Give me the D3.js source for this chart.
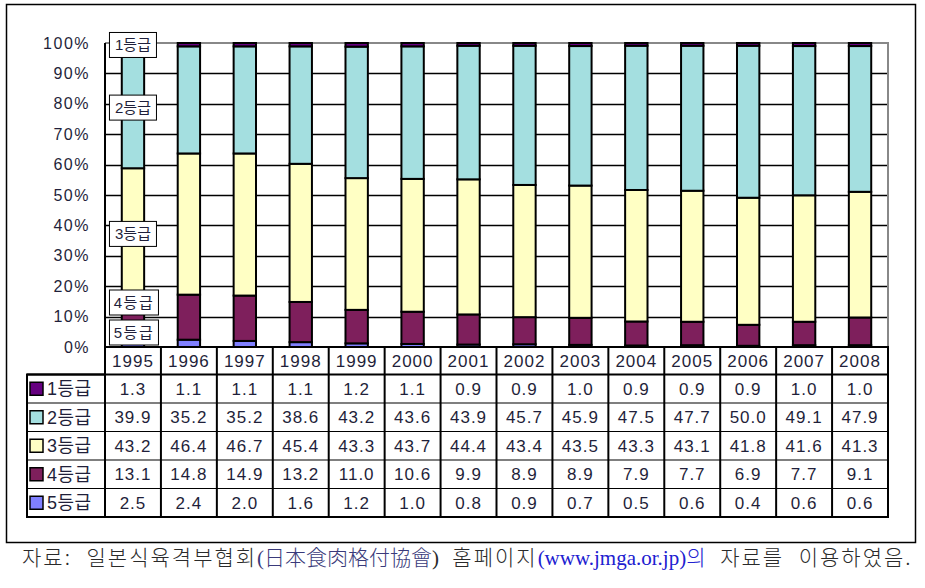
<!DOCTYPE html>
<html><head><meta charset="utf-8">
<script src="https://cdn.jsdelivr.net/npm/d3@7"></script>
<style>body{margin:0;background:#fff}svg{display:block}</style>
</head><body>
<script>
const years = ["1995","1996","1997","1998","1999","2000","2001","2002","2003","2004","2005","2006","2007","2008"];
const grades = ["1등급","2등급","3등급","4등급","5등급"];
const grade1 = [1.3,1.1,1.1,1.1,1.2,1.1,0.9,0.9,1.0,0.9,0.9,0.9,1.0,1.0];
const grade2 = [39.9,35.2,35.2,38.6,43.2,43.6,43.9,45.7,45.9,47.5,47.7,50.0,49.1,47.9];
const grade3 = [43.2,46.4,46.7,45.4,43.3,43.7,44.4,43.4,43.5,43.3,43.1,41.8,41.6,41.3];
const grade4 = [13.1,14.8,14.9,13.2,11.0,10.6,9.9,8.9,8.9,7.9,7.7,6.9,7.7,9.1];
const grade5 = [2.5,2.4,2.0,1.6,1.2,1.0,0.8,0.9,0.7,0.5,0.6,0.4,0.6,0.6];
const yTicks = [0,0.1,0.2,0.3,0.4,0.5,0.6,0.7,0.8,0.9,1.0];
const colors = ["#660080","#a4dfe0","#ffffc4","#7e1f5c","#8080ff"];

const seriesVals = [grade1,grade2,grade3,grade4,grade5];
const rows = years.map((y,i)=>{const o={year:y}; grades.forEach((g,k)=>o[g]=seriesVals[k][i]); return o;});

const W=925,H=588;
const svg=d3.select("body").append("svg").attr("width",W).attr("height",H);
const font="'Liberation Sans', Arial, 'Noto Sans CJK KR', sans-serif";
const txtCol="#1f1f3a";

// frame
svg.append("rect").attr("x",6.5).attr("y",4.5).attr("width",909).attr("height",538)
  .attr("fill","none").attr("stroke","#000").attr("stroke-width",1.5);

const x=d3.scaleBand().domain(years).range([105,888]);
const y=d3.scaleLinear().domain([0,1]).range([347,43]);

// gridlines
svg.append("g").selectAll("line").data(yTicks.filter(t=>t>0&&t<1)).join("line")
  .attr("x1",105).attr("x2",888).attr("y1",d=>Math.round(y(d))+0.5).attr("y2",d=>Math.round(y(d))+0.5)
  .attr("stroke","#000").attr("stroke-width",1.3);
// top / right border gray
svg.append("path").attr("d",`M105,${y(1)}H888V347`).attr("fill","none").attr("stroke","#888").attr("stroke-width",2);

// y axis labels
const yAxis=d3.axisLeft(y).tickValues(yTicks).tickFormat(d=>Math.round(d*100)+"%").tickSize(0).tickPadding(15);
const ga=svg.append("g").attr("transform","translate(105,0)").call(yAxis);
ga.select(".domain").remove();
ga.selectAll("text").attr("font-family",font).attr("font-size",16).attr("letter-spacing",1.5).attr("fill",txtCol);

// stacked bars
const stackKeys=grades.slice().reverse(); // bottom: 5등급
const stack=d3.stack().keys(stackKeys).offset(d3.stackOffsetExpand);
const series=stack(rows);
const bw=x.bandwidth()*0.4;
const gb=svg.append("g");
series.forEach(s=>{
  const k=grades.indexOf(s.key);
  gb.append("g").selectAll("rect").data(s).join("rect")
    .attr("x",d=>x(d.data.year)+(x.bandwidth()-bw)/2)
    .attr("y",d=>y(d[1]))
    .attr("width",bw)
    .attr("height",d=>y(d[0])-y(d[1]))
    .attr("fill",colors[k]).attr("stroke","#000").attr("stroke-width",2);
});

// left axis line
svg.append("line").attr("x1",105).attr("x2",105).attr("y1",43).attr("y2",347).attr("stroke","#000").attr("stroke-width",2);

// data labels for first bar (pushed apart, bottom up)
const boxH=25, gap=5;
let limit=345;
const labelPos=[];
series.forEach(s=>{
  const d=s[0];
  let cy=(y(d[0])+y(d[1]))/2;
  cy=Math.min(cy, limit-boxH/2);
  labelPos.push({key:s.key,cy});
  limit=cy-boxH/2-gap;
});
const cx=x(years[0])+x.bandwidth()/2;
const gl=svg.append("g");
labelPos.forEach(p=>{
  const wide=(p.key==="4등급"||p.key==="5등급");
  const bwid=wide?49:47;
  gl.append("rect").attr("x",cx-23.5).attr("y",p.cy-boxH/2).attr("width",bwid).attr("height",boxH)
    .attr("fill","#fff").attr("stroke","#000").attr("stroke-width",1);
  gl.append("text").attr("x",cx-23.5+bwid/2).attr("y",p.cy).attr("dy","0.36em").attr("text-anchor","middle")
    .attr("font-family",font).attr("font-size",15).attr("letter-spacing",wide?1.5:0).attr("fill",txtCol).text(p.key);
});

// data table
const tTop=347, hdrH=27.5, rowH=28.5, legL=27;
const gt=svg.append("g");
gt.selectAll("text.yr").data(years).join("text").attr("class","yr")
  .attr("x",d=>x(d)+x.bandwidth()/2).attr("y",tTop+hdrH/2).attr("dy","0.36em").attr("text-anchor","middle")
  .attr("font-family",font).attr("font-size",17).attr("letter-spacing",1).attr("fill",txtCol).text(d=>d);
grades.forEach((g,k)=>{
  const ry=tTop+hdrH+k*rowH;
  gt.append("rect").attr("x",30).attr("y",ry+rowH/2-6.5).attr("width",13).attr("height",13)
    .attr("fill",colors[k]).attr("stroke","#000").attr("stroke-width",1.5);
  gt.append("text").attr("x",47).attr("y",ry+rowH/2).attr("dy","0.36em")
    .attr("font-family",font).attr("font-size",18).attr("letter-spacing",0.5).attr("fill",txtCol).text(g);
  gt.append("g").selectAll("text").data(seriesVals[k]).join("text")
    .attr("x",(d,i)=>x(years[i])+x.bandwidth()/2).attr("y",ry+rowH/2).attr("dy","0.36em").attr("text-anchor","middle")
    .attr("font-family",font).attr("font-size",17).attr("letter-spacing",1).attr("fill",txtCol).text(d=>d.toFixed(1));
});
const tBot=tTop+hdrH+grades.length*rowH;
for(let k=1;k<grades.length;k++){
  const ry=tTop+hdrH+k*rowH;
  gt.append("line").attr("x1",legL).attr("x2",888).attr("y1",ry).attr("y2",ry).attr("stroke","#000").attr("stroke-width",1.2);
}
gt.append("line").attr("x1",legL).attr("x2",888).attr("y1",tTop+hdrH).attr("y2",tTop+hdrH).attr("stroke","#000").attr("stroke-width",2);
years.forEach(yr=>{
  gt.append("line").attr("x1",x(yr)).attr("x2",x(yr)).attr("y1",tTop).attr("y2",tBot).attr("stroke","#000").attr("stroke-width",2);
});
gt.append("path").attr("d",`M105,${tTop}H888V${tBot}H${legL}V${tTop+hdrH}H105Z`).attr("fill","none").attr("stroke","#000").attr("stroke-width",2);

// caption
const kr="'Noto Sans CJK KR',sans-serif";
const cap=svg.append("text").attr("x",22).attr("y",565).attr("font-size",21)
  .attr("font-family","'Liberation Serif','Noto Sans CJK KR',serif").attr("word-spacing",8);
cap.append("tspan").attr("fill","#2a2a2a").attr("font-family",kr).attr("font-weight",300).attr("letter-spacing",2).text("자료: 일본식육격부협회");
cap.append("tspan").attr("fill","#3a3a7a").text("(");
cap.append("tspan").attr("fill","#3a3a7a").attr("font-family",kr).attr("font-weight",300).text("日本食肉格付協會");
cap.append("tspan").attr("fill","#2a2a2a").text(") ");
cap.append("tspan").attr("fill","#2a2a2a").attr("font-family",kr).attr("font-weight",300).attr("letter-spacing",2).text("홈페이지");
cap.append("tspan").attr("fill","#2020d0").text("(www.jmga.or.jp)");
cap.append("tspan").attr("fill","#2020d0").attr("font-family",kr).attr("font-weight",300).text("의");
cap.append("tspan").attr("fill","#2a2a2a").attr("font-family",kr).attr("font-weight",300).attr("letter-spacing",2).text(" 자료를 이용하였음.");
</script>
</body></html>
